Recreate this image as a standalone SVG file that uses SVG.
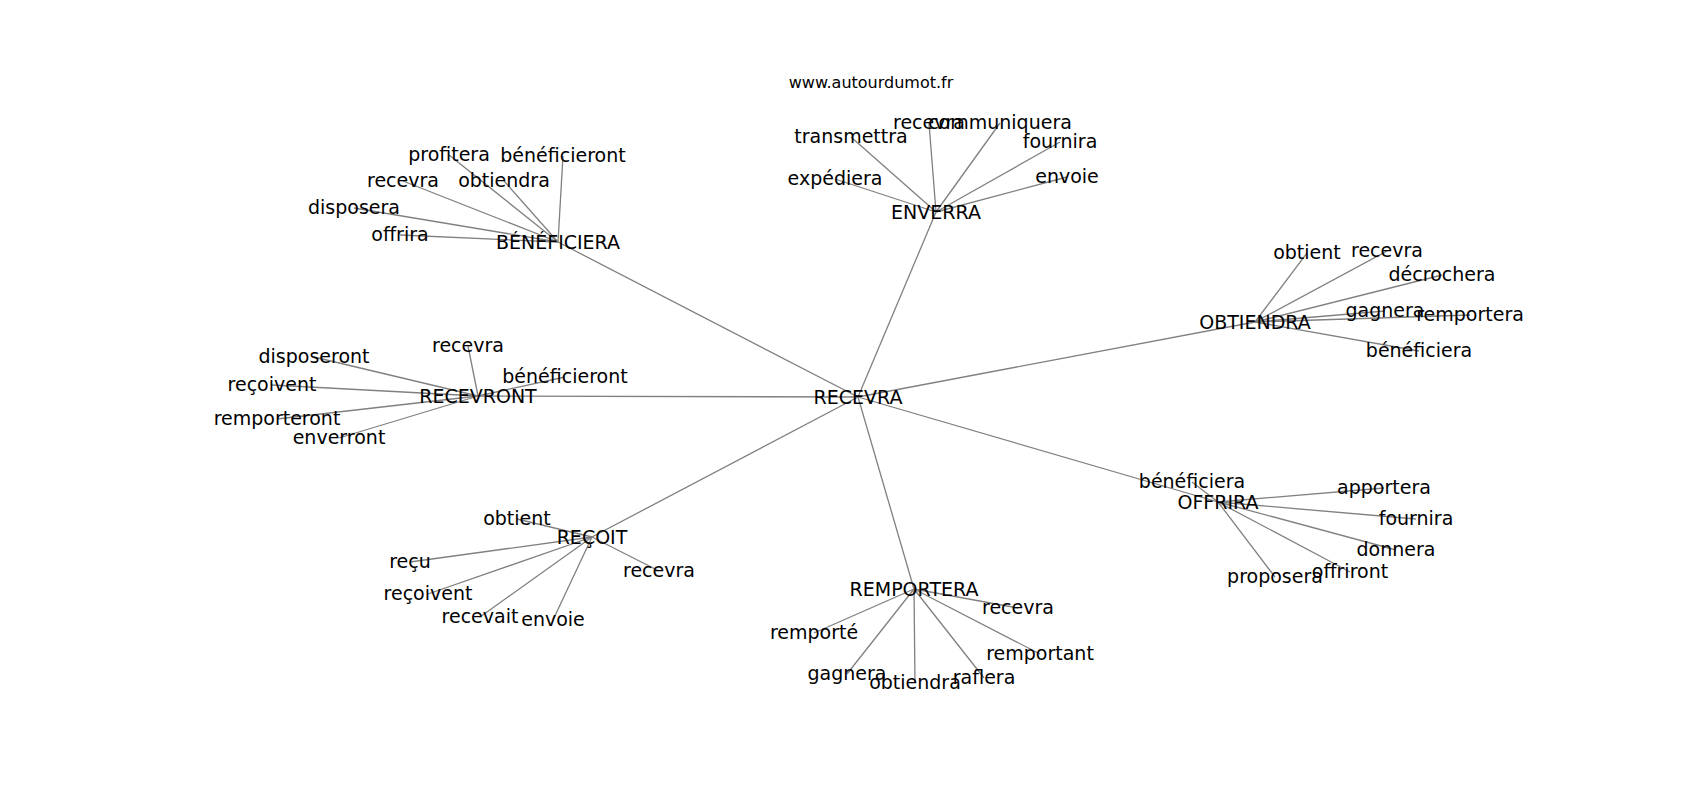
<svg xmlns="http://www.w3.org/2000/svg" width="1700" height="800" viewBox="0 0 1700 800">
<style>
text{font-family:"DejaVu Sans","Liberation Sans",sans-serif;font-size:19px;fill:#000;text-anchor:middle}
.title{font-size:16px}
#edges line{stroke:#808080;stroke-width:1.3}
</style>
<rect width="1700" height="800" fill="#fff"/>
<text class="title" x="871" y="88">www.autourdumot.fr</text>
<g id="edges">
<line x1="858" y1="397" x2="558" y2="242"/>
<line x1="858" y1="397" x2="936" y2="212"/>
<line x1="858" y1="397" x2="1255" y2="322"/>
<line x1="858" y1="397" x2="478" y2="396"/>
<line x1="858" y1="397" x2="592" y2="537"/>
<line x1="858" y1="397" x2="914" y2="589"/>
<line x1="858" y1="397" x2="1218" y2="502"/>
<line x1="558" y1="242" x2="449" y2="155"/>
<line x1="558" y1="242" x2="563" y2="156"/>
<line x1="558" y1="242" x2="403" y2="181"/>
<line x1="558" y1="242" x2="504" y2="181"/>
<line x1="558" y1="242" x2="354" y2="208"/>
<line x1="558" y1="242" x2="400" y2="235"/>
<line x1="936" y1="212" x2="929" y2="123"/>
<line x1="936" y1="212" x2="1000" y2="123"/>
<line x1="936" y1="212" x2="851" y2="137"/>
<line x1="936" y1="212" x2="1060" y2="142"/>
<line x1="936" y1="212" x2="835" y2="179"/>
<line x1="936" y1="212" x2="1067" y2="177"/>
<line x1="1255" y1="322" x2="1307" y2="253"/>
<line x1="1255" y1="322" x2="1387" y2="251"/>
<line x1="1255" y1="322" x2="1442" y2="275"/>
<line x1="1255" y1="322" x2="1385" y2="311"/>
<line x1="1255" y1="322" x2="1470" y2="315"/>
<line x1="1255" y1="322" x2="1419" y2="351"/>
<line x1="478" y1="396" x2="468" y2="346"/>
<line x1="478" y1="396" x2="314" y2="357"/>
<line x1="478" y1="396" x2="565" y2="377"/>
<line x1="478" y1="396" x2="272" y2="385"/>
<line x1="478" y1="396" x2="277" y2="419"/>
<line x1="478" y1="396" x2="339" y2="438"/>
<line x1="592" y1="537" x2="517" y2="519"/>
<line x1="592" y1="537" x2="410" y2="562"/>
<line x1="592" y1="537" x2="428" y2="594"/>
<line x1="592" y1="537" x2="480" y2="617"/>
<line x1="592" y1="537" x2="553" y2="620"/>
<line x1="592" y1="537" x2="659" y2="571"/>
<line x1="914" y1="589" x2="1018" y2="608"/>
<line x1="914" y1="589" x2="814" y2="633"/>
<line x1="914" y1="589" x2="1040" y2="654"/>
<line x1="914" y1="589" x2="847" y2="674"/>
<line x1="914" y1="589" x2="915" y2="683"/>
<line x1="914" y1="589" x2="984" y2="678"/>
<line x1="1218" y1="502" x2="1192" y2="482"/>
<line x1="1218" y1="502" x2="1384" y2="488"/>
<line x1="1218" y1="502" x2="1416" y2="519"/>
<line x1="1218" y1="502" x2="1396" y2="550"/>
<line x1="1218" y1="502" x2="1350" y2="572"/>
<line x1="1218" y1="502" x2="1275" y2="577"/>
</g>
<g id="n-recevra"><text x="858" y="404">RECEVRA</text></g>
<g id="n-beneficiera"><text x="558" y="249">BÉNÉFICIERA</text></g>
<g id="n-enverra"><text x="936" y="219">ENVERRA</text></g>
<g id="n-obtiendra"><text x="1255" y="329">OBTIENDRA</text></g>
<g id="n-recevront"><text x="478" y="403">RECEVRONT</text></g>
<g id="n-recoit"><text x="592" y="544">REÇOIT</text></g>
<g id="n-remportera"><text x="914" y="596">REMPORTERA</text></g>
<g id="n-offrira"><text x="1218" y="509">OFFRIRA</text></g>
<g id="n-b-profitera"><text x="449" y="161">profitera</text></g>
<g id="n-b-beneficieront"><text x="563" y="162">bénéficieront</text></g>
<g id="n-b-recevra"><text x="403" y="187">recevra</text></g>
<g id="n-b-obtiendra"><text x="504" y="187">obtiendra</text></g>
<g id="n-b-disposera"><text x="354" y="214">disposera</text></g>
<g id="n-b-offrira"><text x="400" y="241">offrira</text></g>
<g id="n-e-recevra"><text x="929" y="129">recevra</text></g>
<g id="n-e-communiquera"><text x="1000" y="129">communiquera</text></g>
<g id="n-e-transmettra"><text x="851" y="143">transmettra</text></g>
<g id="n-e-fournira"><text x="1060" y="148">fournira</text></g>
<g id="n-e-expediera"><text x="835" y="185">expédiera</text></g>
<g id="n-e-envoie"><text x="1067" y="183">envoie</text></g>
<g id="n-o-obtient"><text x="1307" y="259">obtient</text></g>
<g id="n-o-recevra"><text x="1387" y="257">recevra</text></g>
<g id="n-o-decrochera"><text x="1442" y="281">décrochera</text></g>
<g id="n-o-gagnera"><text x="1385" y="317">gagnera</text></g>
<g id="n-o-remportera"><text x="1470" y="321">remportera</text></g>
<g id="n-o-beneficiera"><text x="1419" y="357">bénéficiera</text></g>
<g id="n-r-recevra"><text x="468" y="352">recevra</text></g>
<g id="n-r-disposeront"><text x="314" y="363">disposeront</text></g>
<g id="n-r-beneficieront"><text x="565" y="383">bénéficieront</text></g>
<g id="n-r-recoivent"><text x="272" y="391">reçoivent</text></g>
<g id="n-r-remporteront"><text x="277" y="425">remporteront</text></g>
<g id="n-r-enverront"><text x="339" y="444">enverront</text></g>
<g id="n-c-obtient"><text x="517" y="525">obtient</text></g>
<g id="n-c-recu"><text x="410" y="568">reçu</text></g>
<g id="n-c-recoivent"><text x="428" y="600">reçoivent</text></g>
<g id="n-c-recevait"><text x="480" y="623">recevait</text></g>
<g id="n-c-envoie"><text x="553" y="626">envoie</text></g>
<g id="n-c-recevra"><text x="659" y="577">recevra</text></g>
<g id="n-m-recevra"><text x="1018" y="614">recevra</text></g>
<g id="n-m-remporte"><text x="814" y="639">remporté</text></g>
<g id="n-m-remportant"><text x="1040" y="660">remportant</text></g>
<g id="n-m-gagnera"><text x="847" y="680">gagnera</text></g>
<g id="n-m-obtiendra"><text x="915" y="689">obtiendra</text></g>
<g id="n-m-raflera"><text x="984" y="684">raflera</text></g>
<g id="n-f-beneficiera"><text x="1192" y="488">bénéficiera</text></g>
<g id="n-f-apportera"><text x="1384" y="494">apportera</text></g>
<g id="n-f-fournira"><text x="1416" y="525">fournira</text></g>
<g id="n-f-donnera"><text x="1396" y="556">donnera</text></g>
<g id="n-f-offriront"><text x="1350" y="578">offriront</text></g>
<g id="n-f-proposera"><text x="1275" y="583">proposera</text></g>
</svg>
